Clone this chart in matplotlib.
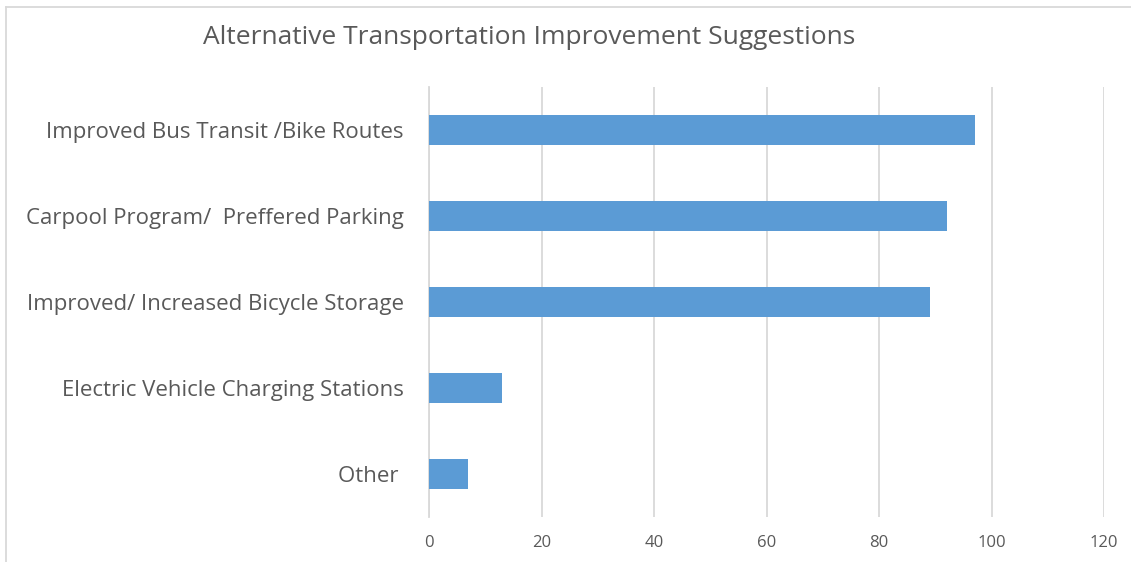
import matplotlib.pyplot as plt
from matplotlib.lines import Line2D

categories = ["Other", "Electric Vehicle Charging Stations",
	"Improved/ Increased Bicycle Storage", "Carpool Program/  Preffered Parking",
	"Improved Bus Transit /Bike Routes"]
values = [7, 13, 89, 92, 97]
xticks = [0, 20, 40, 60, 80, 100, 120]
title = "Alternative Transportation Improvement Suggestions"

plt.rcParams['font.family'] = ['Open Sans', 'DejaVu Sans']
txt = '#595959'

fig = plt.figure(figsize=(11.31, 5.62), dpi=100)
ax = fig.add_axes([429/1131, 45/562, 675/1131, 430/562])

ax.barh(range(len(categories)), values, height=0.36, color='#5B9BD5', zorder=3)
ax.set_xlim(0, 120)
ax.set_ylim(-0.5, len(categories) - 0.5)
ax.set_xticks(xticks)
ax.set_yticks(range(len(categories)))
ax.set_yticklabels([c + " " if c == "Other" else c for c in categories])
ax.grid(axis='x', color='#D9D9D9', linewidth=1.3, zorder=0)
for s in ['top', 'right', 'bottom']:
	ax.spines[s].set_visible(False)
ax.spines['left'].set_color('#D9D9D9')
ax.spines['left'].set_linewidth(1.3)
ax.tick_params(axis='both', length=0, colors=txt)
ax.tick_params(axis='x', labelsize=12, pad=13)
ax.tick_params(axis='y', labelsize=16, pad=18)

fig.text(529/1131, 1 - 38/562, title, ha='center', va='center', fontsize=19, color=txt)

# chart frame (top and left edges visible)
fig.add_artist(Line2D([6/1131, 1], [1 - 7/562, 1 - 7/562], color='#D9D9D9', lw=1.3))
fig.add_artist(Line2D([6/1131, 6/1131], [0, 1 - 7/562], color='#D9D9D9', lw=1.3))

fig.savefig('out.png', dpi=100)
